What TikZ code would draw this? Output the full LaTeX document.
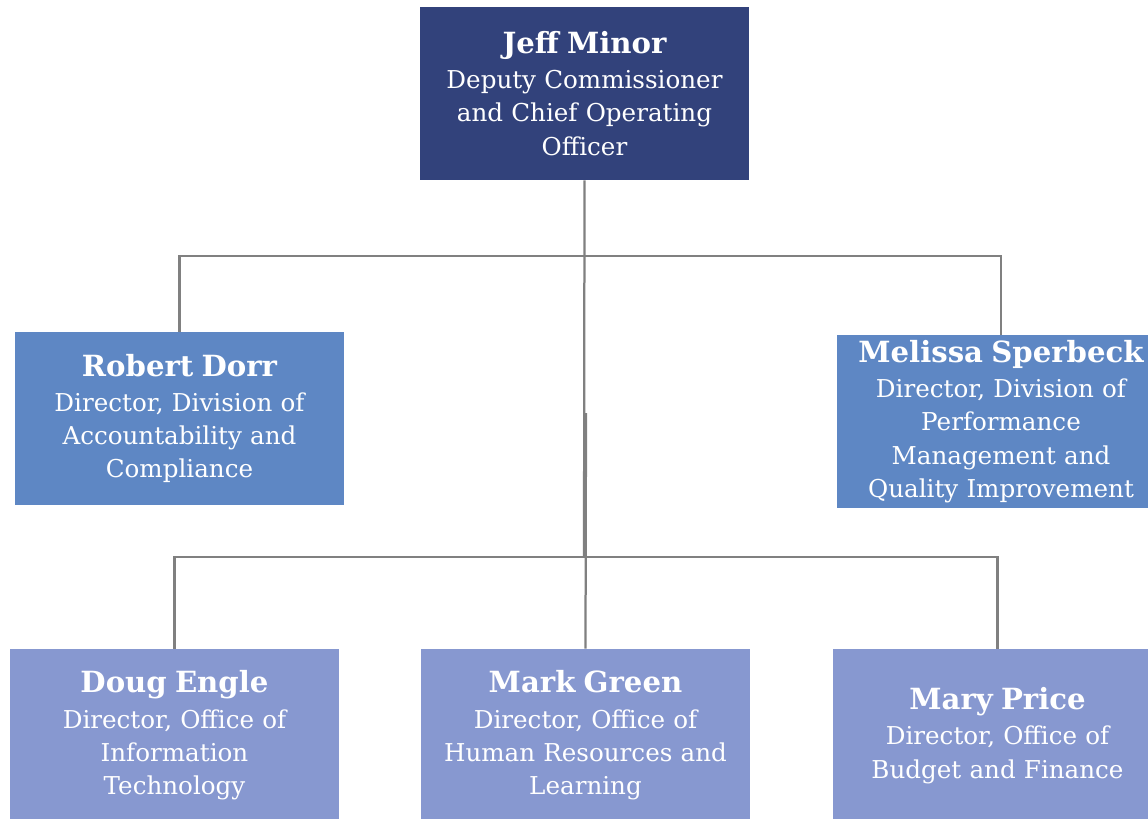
\documentclass[tikz,border=0pt]{standalone}
\usepackage{fontspec}
\setmainfont{DejaVu Serif}
\definecolor{navybox}{RGB}{50,66,123}
\definecolor{bluebox}{RGB}{94,135,196}
\definecolor{lilacbox}{RGB}{135,152,208}
\definecolor{linegray}{RGB}{128,128,128}
\newcommand{\who}[1]{{\fontsize{16.6}{19}\selectfont\bfseries #1}\\[1pt]}
\begin{document}
\begin{tikzpicture}[x=0.02cm,y=-0.02cm]
			\clip (0,0) rectangle (1148,818);
			\fill[white] (0,0) rectangle (1148,818);
			\begin{scope}[every node/.style={rectangle,text=white,minimum width=6.58cm,minimum height=3.46cm,inner sep=0pt,text width=6.5cm,align=center,font=\fontsize{14}{19}\selectfont}]
				\node[fill=navybox] (jm) at (584.5,93.5) {\who{Jeff Minor}Deputy Commissioner\\and Chief Operating\\Officer};
				\node[fill=bluebox] (rd) at (179.5,418.5) {\who{Robert Dorr}Director, Division of\\Accountability and\\Compliance};
				\node[fill=bluebox] (ms) at (1001,421.5) {\who{Melissa Sperbeck}Director, Division of\\Performance\\Management and\\Quality Improvement};
				\node[fill=lilacbox] (de) at (174.5,735.5) {\who{Doug Engle}Director, Office of\\Information\\Technology};
				\node[fill=lilacbox] (mg) at (585.5,735.5) {\who{Mark Green}Director, Office of\\Human Resources and\\Learning};
				\node[fill=lilacbox] (mp) at (997.5,735.5) {\who{Mary Price}Director, Office of\\Budget and Finance};
			\end{scope}
			\coordinate (hubA) at (584,256);
			\coordinate (hubB) at (584,557);
			\coordinate (hubC) at (586,413);
			\begin{scope}[every path/.style={draw=linegray,line width=0.045cm}]
				\path [-] (jm.south) edge (hubB);
				\path [-] (rd.north) |- (hubA) -| (ms.north);
				\path [-] (de.north) |- (hubB) -| (mp.north);
				\path [-] (hubC) edge (mg.north);
			\end{scope}
		\end{tikzpicture}
\end{document}
